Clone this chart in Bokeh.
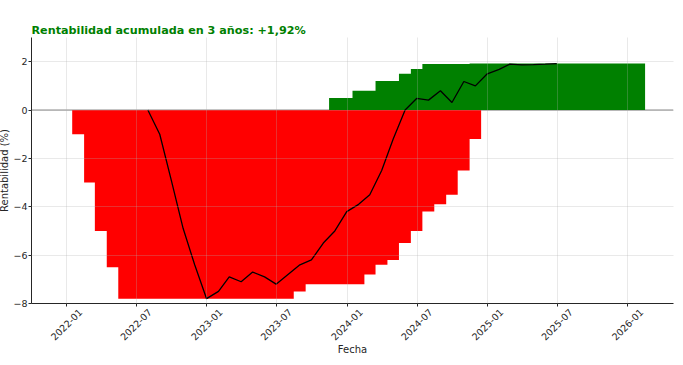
from math import pi
import pandas as pd
from bokeh.plotting import figure
from bokeh.models import FixedTicker, Span, Range1d, DatetimeAxis
from bokeh.embed import file_html
from bokeh.resources import INLINE

# ---------------- data ----------------
title_text = "Rentabilidad acumulada en 3 años: +1,92%"
x_title = "Fecha"
y_title = "Rentabilidad (%)"

x_start = "2021-10-01"
x_end = "2026-04-30"
y_start = -8
y_end = 3

x_tick_labels = ["2022-01", "2022-07", "2023-01", "2023-07", "2024-01",
                 "2024-07", "2025-01", "2025-07", "2026-01"]
y_ticks = [-8, -6, -4, -2, 0, 2]
y_tick_labels = ["\u22128", "\u22126", "\u22124", "\u22122", "0", "2"]

# black line: month-end values 2022-07 .. 2025-06
line_first_month = "2022-08-01"
line_values = [0.0, -1.0, -2.9, -4.9, -6.4, -7.8,
               -7.5, -6.9, -7.1, -6.7, -6.9, -7.2, -6.8, -6.4, -6.2, -5.5, -5.0, -4.2,
               -3.9, -3.5, -2.5, -1.2, 0.0, 0.48, 0.41, 0.8, 0.31, 1.18, 1.0, 1.5,
               1.68, 1.9, 1.87, 1.88, 1.9, 1.92]

# red steps: from the 15th of each month, 2022-01 .. 2024-11 (ending 2024-12-15)
red_first_month = "2022-01-01"
red_values = [-1.0, -3.0, -5.0, -6.5,
              -7.8, -7.8, -7.8, -7.8, -7.8, -7.8, -7.8, -7.8,
              -7.8, -7.8, -7.8, -7.8, -7.8, -7.8, -7.8, -7.5, -7.2, -7.2, -7.2, -7.2,
              -7.2, -6.8, -6.4, -6.2, -5.5, -5.0, -4.2, -3.9, -3.5, -2.5, -1.2]

# green steps: from the 15th of each month, 2023-11 .. 2026-01 (ending 2026-02-15)
green_first_month = "2023-11-01"
green_values = [0.5, 0.5,
                0.8, 0.8, 1.2, 1.2, 1.5, 1.7, 1.9, 1.9, 1.9, 1.9, 1.92, 1.92,
                1.92, 1.92, 1.92, 1.92, 1.92, 1.92, 1.92, 1.92, 1.92, 1.92, 1.92, 1.92,
                1.92]

# ---------------- derived ----------------
line_dates = pd.date_range(line_first_month, periods=len(line_values), freq="MS") - pd.Timedelta(days=1)
red_dates = pd.date_range(red_first_month, periods=len(red_values) + 1, freq="MS") + pd.Timedelta(days=14)
red_y = red_values + [red_values[-1]]
green_dates = pd.date_range(green_first_month, periods=len(green_values) + 1, freq="MS") + pd.Timedelta(days=14)
green_y = green_values + [green_values[-1]]

DAY_MS = 86400000
tick_dates = pd.to_datetime([t + "-01" for t in x_tick_labels])
tick_ms = [float(d.value // 10**6) for d in tick_dates]
x0_ms = float(pd.Timestamp(x_start).value // 10**6)
x1_ms = float(pd.Timestamp(x_end).value // 10**6)

# Bokeh anchors rotated labels at their right end; shift the label anchors so the
# rotated text ends up centred on each tick, as in the original
LABEL_SHIFT_MS = 36 * DAY_MS
label_ms = [t + LABEL_SHIFT_MS for t in tick_ms]

FONT = "DejaVu Sans"
TXT = "#262626"

p = figure(width=683, height=365, x_axis_type="datetime",
           x_range=Range1d(x0_ms, x1_ms),
           y_range=Range1d(y_start, y_end),
           output_backend="svg", toolbar_location=None,
           min_border_left=30, min_border_right=6, min_border_top=37, min_border_bottom=62)
p.styles = {"margin-left": "-4px", "margin-top": "0px"}
p.background_fill_color = "white"
p.border_fill_color = "white"
p.outline_line_color = None

# title
p.title.text = title_text
p.title.text_color = "#008000"
p.title.text_font = FONT
p.title.text_font_style = "bold"
p.title.text_font_size = "11.2px"
p.title.align = "left"
p.title.offset = 0
p.title.standoff = 2

# zero line
p.add_layout(Span(location=0, dimension="width", line_color="#808080", line_width=1, level="underlay"))

# fills
p.varea_step(x=red_dates, y1=[0] * len(red_y), y2=red_y, step_mode="after", fill_color="#ff0000")
p.varea_step(x=green_dates, y1=[0] * len(green_y), y2=green_y, step_mode="after", fill_color="#008000")

# line
p.line(line_dates, line_values, line_color="black", line_width=1.3)

# axes
xa = p.xaxis[0]
ya = p.yaxis[0]
xa.ticker = FixedTicker(ticks=tick_ms)
ya.ticker = FixedTicker(ticks=y_ticks)
ya.major_label_overrides = {t: l for t, l in zip(y_ticks, y_tick_labels)}
for ax in (xa, ya):
    ax.minor_tick_line_color = None
    ax.axis_line_color = TXT
    ax.axis_line_width = 1
    ax.major_tick_line_color = TXT
    ax.major_tick_in = 0
    ax.major_tick_out = 3
    ax.major_label_text_font = FONT
    ax.major_label_text_font_size = "9.5px"
    ax.major_label_text_color = TXT
    ax.axis_label_text_font = FONT
    ax.axis_label_text_font_size = "10px"
    ax.axis_label_text_font_style = "normal"
    ax.axis_label_text_color = TXT
# tick marks only on the main x axis
xa.major_label_text_color = None
xa.major_label_text_font_size = "0px"
xa.major_label_standoff = 0
ya.axis_label = y_title
ya.major_label_standoff = 1
ya.axis_label_standoff = 0

# label-only x axis underneath
xl = DatetimeAxis(ticker=FixedTicker(ticks=label_ms),
                  major_label_overrides={t: l for t, l in zip(label_ms, x_tick_labels)},
                  major_label_orientation=pi / 4, major_label_standoff=4,
                  axis_line_color=None, major_tick_line_color=None, minor_tick_line_color=None,
                  major_tick_in=0, major_tick_out=0,
                  major_label_text_font=FONT, major_label_text_font_size="9.5px",
                  major_label_text_color=TXT,
                  axis_label=x_title, axis_label_standoff=-3,
                  axis_label_text_font=FONT, axis_label_text_font_size="10px",
                  axis_label_text_font_style="normal", axis_label_text_color=TXT)
p.add_layout(xl, "below")

# grid above fills
for g in (p.xgrid[0], p.ygrid[0]):
    g.grid_line_color = "#b0b0b0"
    g.grid_line_alpha = 0.35
    g.grid_line_width = 0.8
    g.level = "guide"

open("out.html", "w").write(file_html(p, INLINE))
